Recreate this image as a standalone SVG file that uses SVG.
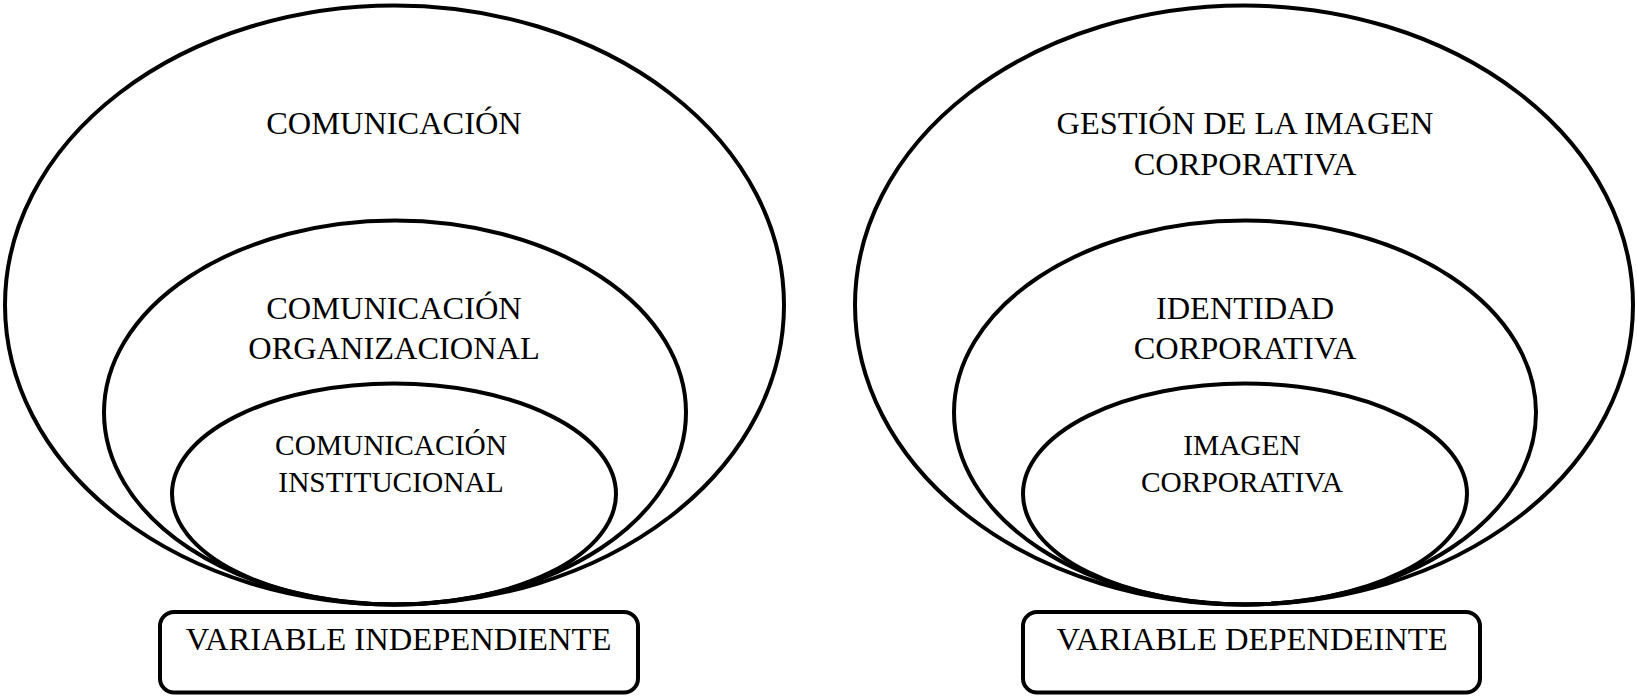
<svg xmlns="http://www.w3.org/2000/svg" width="1637" height="697" viewBox="0 0 1637 697">
  <style>
    .ring { fill: none; stroke: #000; stroke-width: 4; }
    .box { fill: #fff; stroke: #000; stroke-width: 4; }
    .lbl { font-family: "Liberation Serif", "Times New Roman", serif; fill: #000; text-anchor: middle; }
    .big { font-size: 32.4px; }
    .small { font-size: 29.4px; }
    .var { font-size: 32.6px; }
  </style>
  <rect width="1637" height="697" fill="#fff"/>

  <!-- Independent variable: nested communication levels -->
  <g id="comunicacion">
    <ellipse class="ring" cx="394.5" cy="305" rx="389.5" ry="299.5"/>
    <text class="lbl big" x="394" y="134">COMUNICACIÓN</text>
  </g>
  <g id="comunicacion-organizacional">
    <ellipse class="ring" cx="395" cy="412.5" rx="291" ry="192"/>
    <text class="lbl big" x="394" y="319">COMUNICACIÓN</text>
    <text class="lbl big" x="394" y="359">ORGANIZACIONAL</text>
  </g>
  <g id="comunicacion-institucional">
    <ellipse class="ring" cx="394" cy="494" rx="222" ry="110.5"/>
    <text class="lbl small" x="391" y="455">COMUNICACIÓN</text>
    <text class="lbl small" x="391" y="492">INSTITUCIONAL</text>
  </g>
  <g id="variable-independiente">
    <rect class="box" x="160" y="612" width="478" height="80.5" rx="14"/>
    <text class="lbl var" x="398.5" y="650">VARIABLE INDEPENDIENTE</text>
  </g>

  <!-- Dependent variable: nested corporate image levels -->
  <g id="gestion-imagen">
    <ellipse class="ring" cx="1244" cy="305" rx="389" ry="299.5"/>
    <text class="lbl big" x="1245" y="134">GESTIÓN DE LA IMAGEN</text>
    <text class="lbl big" x="1245" y="175">CORPORATIVA</text>
  </g>
  <g id="identidad-corporativa">
    <ellipse class="ring" cx="1245" cy="412.5" rx="291" ry="192"/>
    <text class="lbl big" x="1245" y="319">IDENTIDAD</text>
    <text class="lbl big" x="1245" y="359">CORPORATIVA</text>
  </g>
  <g id="imagen-corporativa">
    <ellipse class="ring" cx="1245" cy="494" rx="222" ry="110.5"/>
    <text class="lbl small" x="1242" y="455">IMAGEN</text>
    <text class="lbl small" x="1242" y="492">CORPORATIVA</text>
  </g>
  <g id="variable-dependiente">
    <rect class="box" x="1023" y="612" width="457" height="80.5" rx="14"/>
    <text class="lbl var" x="1252" y="650">VARIABLE DEPENDEINTE</text>
  </g>

  <g id="connectors"/>
</svg>
